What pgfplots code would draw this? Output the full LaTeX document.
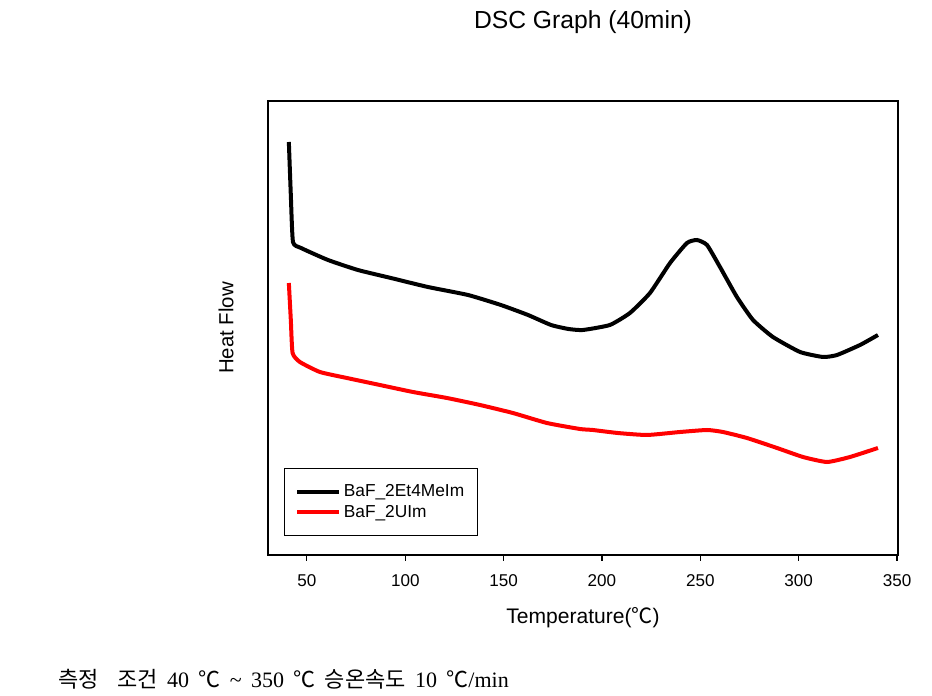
\documentclass[border=0pt]{standalone}
\usepackage{pgfplots}
\pgfplotsset{compat=1.18}
\usepackage{fontspec}
\setmainfont{Liberation Sans}
\newfontfamily\kr{Noto Sans CJK KR}
\newfontfamily\ser{Liberation Serif}
\newcommand{\gap}{\hspace{7pt}}
\begin{document}
\begin{tikzpicture}
\useasboundingbox (0,0) rectangle (699pt,522pt);
\node[font=\fontsize{18.5pt}{21pt}\selectfont] at (437.25pt,505.5pt) {DSC Graph (40min)};
\node[anchor=base west, inner sep=0pt] at (43.5pt,6pt)
 {\fontsize{16.5pt}{18pt}\kr 측정\hspace{14pt}조건\gap{\ser 40}\gap ℃\gap{\ser\char"007E}\gap{\ser 350}\gap ℃\gap 승온속도\gap{\ser 10}\gap ℃{\ser /min}};
\begin{axis}[
  at={(201pt,105.75pt)}, anchor=south west,
  scale only axis, width=472.5pt, height=340.5pt,
  xmin=30.2, xmax=350.5, ymin=45, ymax=499,
  xtick={50,100,150,200,250,300,350},
  xtick pos=bottom, tick align=outside,
  major tick length=4.5pt,
  ytick=\empty,
  axis line style={line width=0.9pt},
  every tick/.style={black, line width=0.8pt},
  /pgf/number format/assume math mode=true,
  xticklabel style={font=\fontsize{12.8pt}{14pt}\selectfont, yshift=-7pt},
  xlabel={Temperature({\kr ℃})},
  xlabel style={font=\fontsize{15.8pt}{18pt}\selectfont, at={(rel axis cs:0.5,0)}, anchor=center, yshift=-47.25pt},
  ylabel={Heat Flow},
  ylabel style={font=\fontsize{15.3pt}{17pt}\selectfont, at={(rel axis cs:0,0.5)}, anchor=center, yshift=31.5pt},
  legend style={at={(0.0254,0.1916)}, anchor=north west, draw=black, line width=0.7pt,
     font=\fontsize{13pt}{15pt}\selectfont, inner xsep=8pt, inner ysep=10pt,
     row sep=1pt, cells={anchor=west}},
  legend image post style={line width=3pt},
  legend image code/.code={\draw[#1] (0pt,0pt) -- (31.5pt,0pt);},
]
\addplot[black, line width=3pt, smooth, tension=0.3] coordinates {
(40.8,458) (41.8,405) (42.9,358) (47,352) (60.7,340) (75.9,330) (92.7,322) (111.5,313)
(131.9,305) (148.6,295) (162.4,285) (174.1,275) (183,271) (190.3,270) (204,275)
(214.2,287) (224.4,307) (234.6,337) (243.2,357) (248.3,360) (253.4,355) (260,333)
(268.6,303) (276.8,280) (286.9,263) (300.7,248) (312.4,243) (319.5,245) (331.2,255) (340.3,265)
};
\addlegendentry{BaF\_2Et4MeIm}
\addplot[red, line width=3pt, smooth, tension=0.3] coordinates {
(40.8,317) (41.8,280) (42.7,247) (46.4,238) (56.6,228) (70.3,222) (87.1,215) (103.9,208)
(121.2,202) (138,195) (154.7,187) (172,177) (188.8,171) (195.4,170) (208,167) (222.9,165)
(239.7,168) (253.4,170) (261.5,168) (273.7,162) (289,152) (302.2,143) (314.4,138) (326.1,143) (340.3,152)
};
\addlegendentry{BaF\_2UIm}
\end{axis}
\end{tikzpicture}
\end{document}
